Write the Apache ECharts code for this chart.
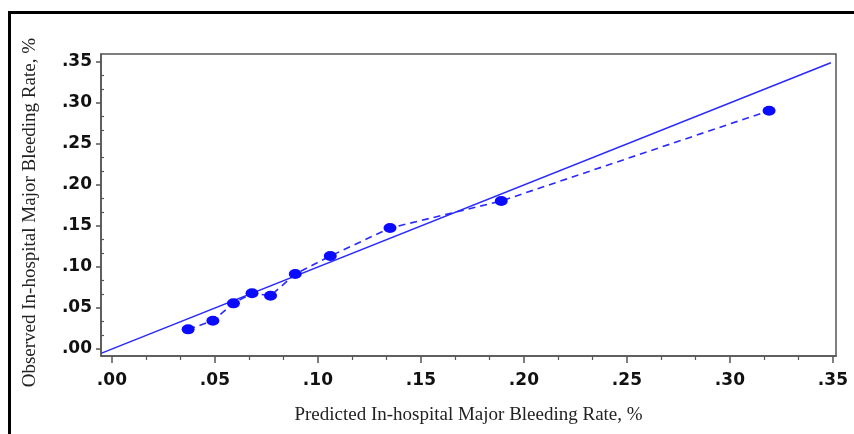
<!DOCTYPE html>
<html>
<head>
<meta charset="utf-8">
<script src="https://cdn.jsdelivr.net/npm/echarts@6/dist/echarts.min.js"></script>
<style>
  html, body { margin: 0; padding: 0; background: #fff; }
  #chart { width: 854px; height: 434px; }
</style>
</head>
<body>
<div id="chart"></div>
<script>
// predicted vs observed in-hospital major bleeding rate (deciles)
var predicted = [0.037, 0.049, 0.059, 0.068, 0.077, 0.089, 0.106, 0.135, 0.189, 0.319];
var observed = [0.024, 0.0345, 0.0557, 0.068, 0.065, 0.0915, 0.1134, 0.1476, 0.1805, 0.2906];
// line of perfect calibration, drawn from the left border
var refLine = [-0.005, 0.349];
var majorTicks = [0, 0.05, 0.10, 0.15, 0.20, 0.25, 0.30, 0.35];
var tickLabels = ['.00', '.05', '.10', '.15', '.20', '.25', '.30', '.35'];

var minorTicks = [];
for (var i = 0; i < majorTicks.length - 1; i++) {
    var step = (majorTicks[i + 1] - majorTicks[i]) / 3;
    minorTicks.push(majorTicks[i] + step, majorTicks[i] + 2 * step);
}

var obsData = [];
for (var i = 0; i < predicted.length; i++) {
    obsData.push([predicted[i], observed[i]]);
}
var refData = [[refLine[0], refLine[0]], [refLine[1], refLine[1]]];

function fmt(v) {
    var idx = majorTicks.findIndex(function (t) { return Math.abs(t - v) < 1e-6; });
    return idx >= 0 ? tickLabels[idx] : '';
}

var xMin = -0.0053, xMax = 0.3515;
var yMin = -0.0085, yMax = 0.3598;
var axisColor = '#555';
var labelFont = { fontFamily: 'DejaVu Sans', fontWeight: 'bold', fontSize: 17, color: '#111' };

var chart = echarts.init(document.getElementById('chart'));
chart.setOption({
    animation: false,
    backgroundColor: '#fff',
    graphic: [{
        type: 'rect',
        shape: { x: 9.5, y: 12.5, width: 900, height: 500 },
        style: { fill: 'none', stroke: '#000', lineWidth: 3 },
        z: -1
    }, {
        type: 'text',
        left: 21, top: 38,
        rotation: Math.PI / 2,
        style: {
            text: 'Observed In-hospital Major Bleeding Rate, %',
            font: '19px "Liberation Serif"',
            fill: '#222'
        }
    }],
    grid: {
        left: 101, top: 54, width: 735, height: 302,
        show: true, borderColor: axisColor, borderWidth: 1.5
    },
    xAxis: [{
        type: 'value', min: xMin, max: xMax,
        name: 'Predicted In-hospital Major Bleeding Rate, %',
        nameLocation: 'middle', nameGap: 50,
        nameTextStyle: { fontFamily: 'Liberation Serif', fontSize: 19, color: '#222' },
        axisLine: { show: true, onZero: false, lineStyle: { color: axisColor, width: 1.5 } },
        axisTick: { show: true, customValues: majorTicks, length: 7, lineStyle: { color: axisColor, width: 1.5 } },
        axisLabel: Object.assign({ customValues: majorTicks, margin: 16, formatter: fmt }, labelFont),
        splitLine: { show: false }
    }, {
        type: 'value', min: xMin, max: xMax, position: 'bottom',
        axisLine: { show: false, onZero: false },
        axisTick: { show: true, customValues: minorTicks, length: 4, lineStyle: { color: axisColor, width: 1.2 } },
        axisLabel: { show: false },
        splitLine: { show: false }
    }],
    yAxis: [{
        type: 'value', min: yMin, max: yMax,
        axisLine: { show: true, onZero: false, lineStyle: { color: axisColor, width: 1.5 } },
        axisTick: { show: true, customValues: majorTicks, length: 5, lineStyle: { color: axisColor, width: 1.5 } },
        axisLabel: Object.assign({ customValues: majorTicks, margin: 9, formatter: fmt }, labelFont),
        splitLine: { show: false }
    }, {
        type: 'value', min: yMin, max: yMax, position: 'left',
        axisLine: { show: false, onZero: false },
        axisTick: { show: true, inside: true, customValues: minorTicks, length: 3, lineStyle: { color: axisColor, width: 1.2 } },
        axisLabel: { show: false },
        splitLine: { show: false }
    }],
    series: [{
        type: 'line',
        data: refData,
        showSymbol: false,
        symbol: 'none',
        lineStyle: { color: '#2a2aff', width: 1.6 }
    }, {
        type: 'line',
        data: obsData,
        symbol: 'circle',
        symbolSize: [13, 10],
        itemStyle: { color: '#0a0aff' },
        lineStyle: { color: '#2a2aff', width: 1.6, type: [7, 5] }
    }]
});
</script>
</body>
</html>
